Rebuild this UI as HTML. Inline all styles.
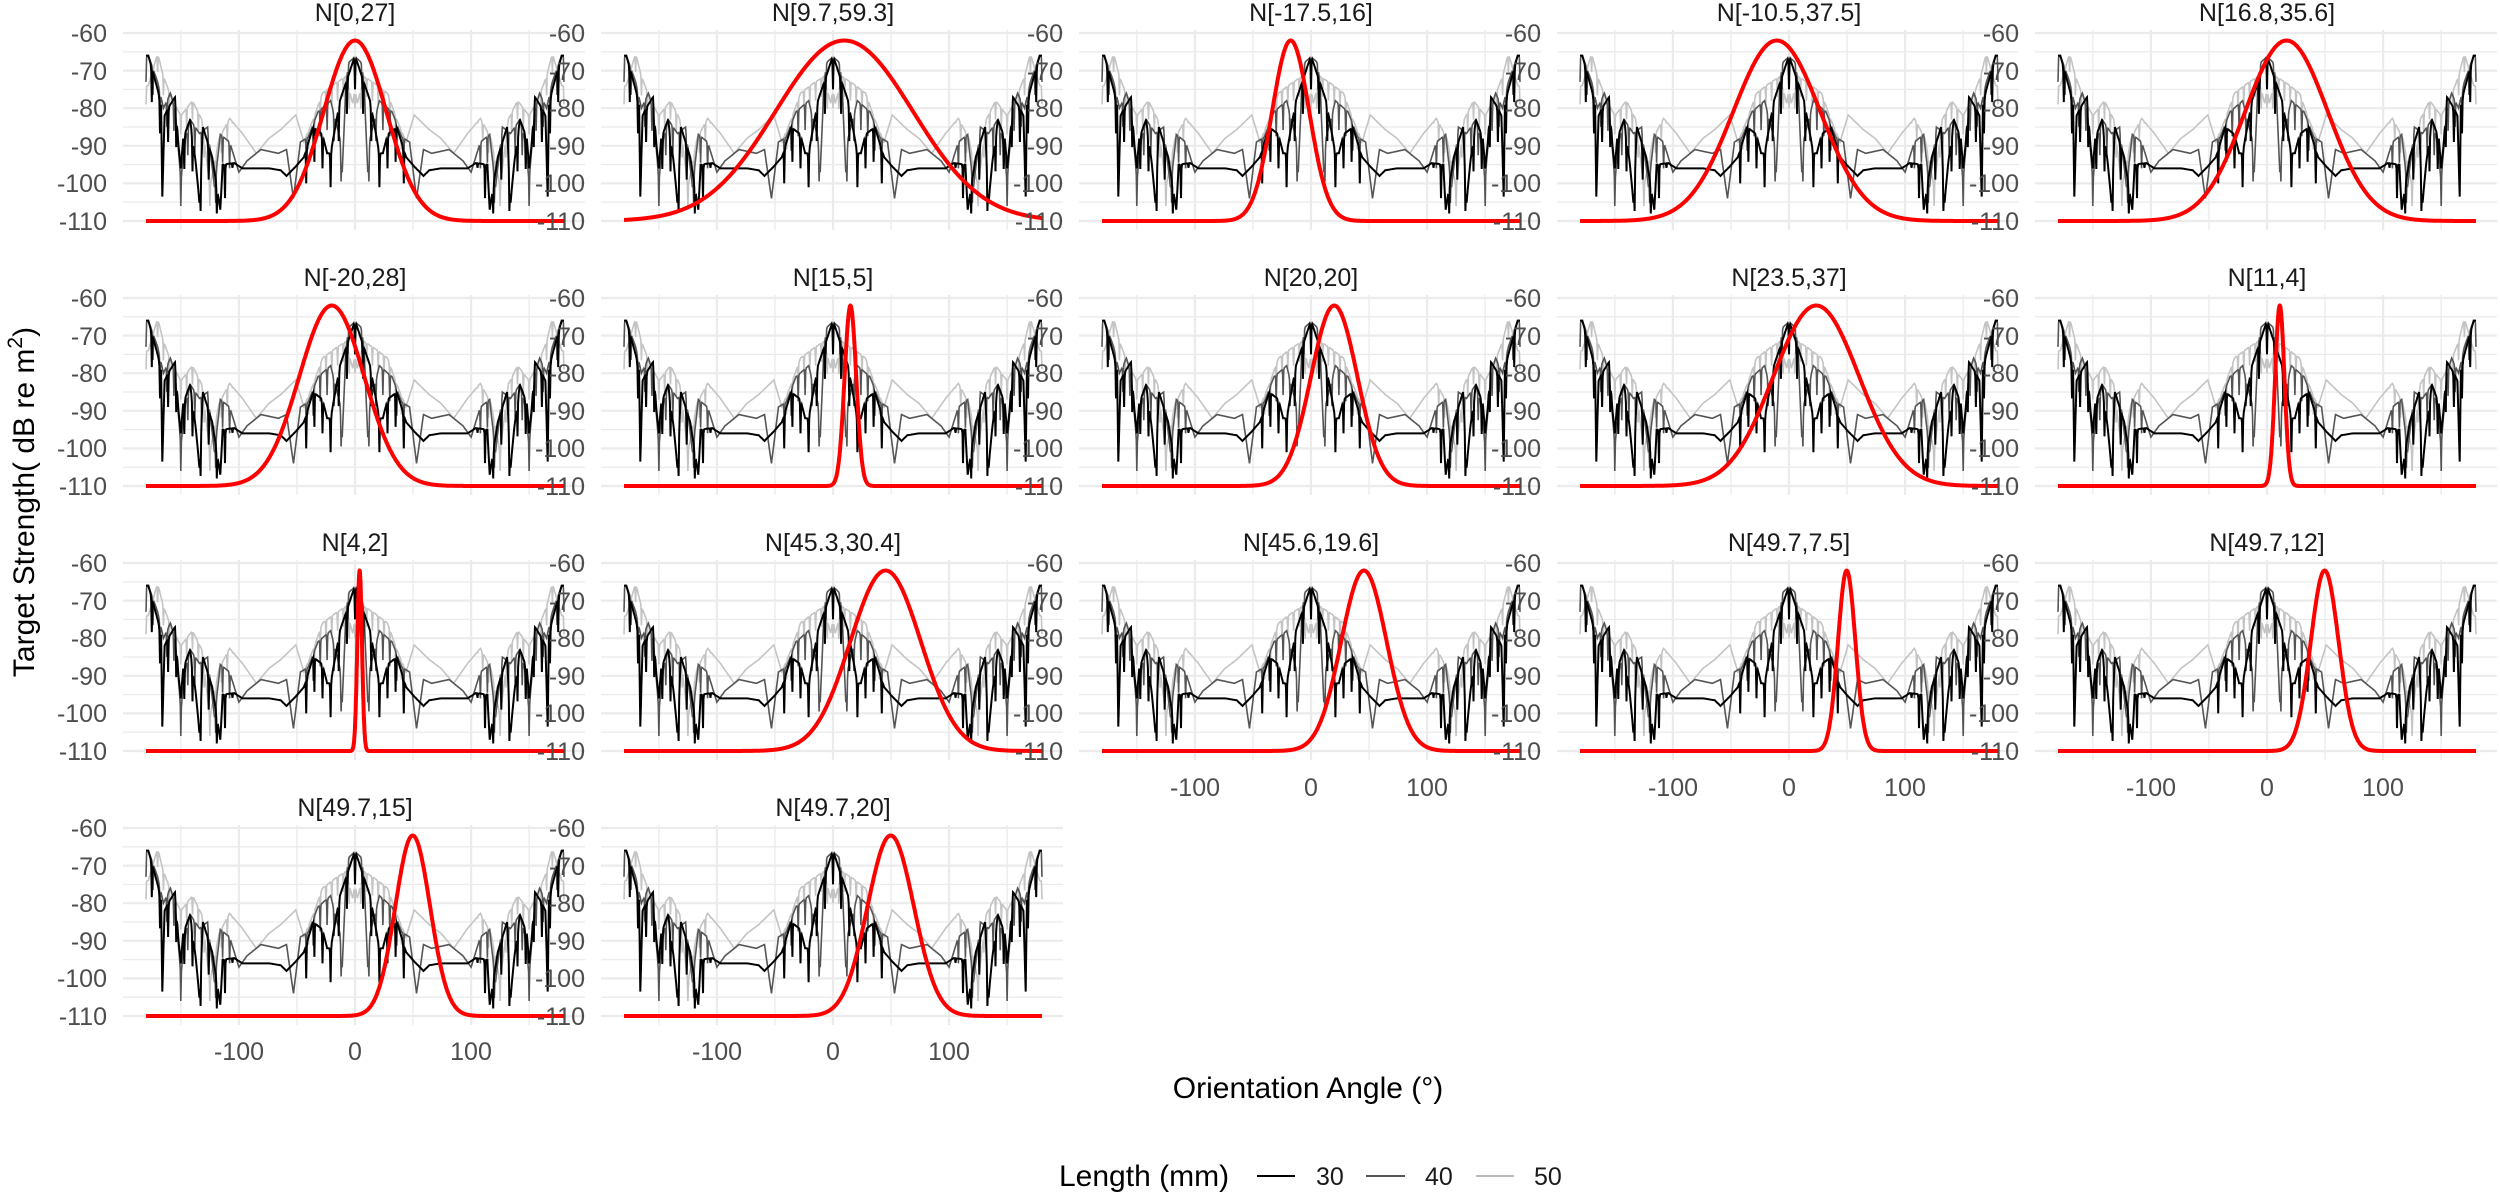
<!DOCTYPE html>
<html><head><meta charset="utf-8"><style>
html,body{margin:0;padding:0;background:#fff;}
svg{display:block;}
text{font-family:"Liberation Sans",sans-serif;}
</style></head><body>
<svg id="s" xmlns="http://www.w3.org/2000/svg" width="2500" height="1194" viewBox="0 0 2500 1194">
<g id="grid"></g>
<g id="data"></g>
<g id="labels" font-size="25">
<g fill="#1a1a1a" text-anchor="middle">
<text x="355" y="21">N[0,27]</text>
<text x="833" y="21">N[9.7,59.3]</text>
<text x="1311" y="21">N[-17.5,16]</text>
<text x="1789" y="21">N[-10.5,37.5]</text>
<text x="2267" y="21">N[16.8,35.6]</text>
<text x="355" y="286">N[-20,28]</text>
<text x="833" y="286">N[15,5]</text>
<text x="1311" y="286">N[20,20]</text>
<text x="1789" y="286">N[23.5,37]</text>
<text x="2267" y="286">N[11,4]</text>
<text x="355" y="551">N[4,2]</text>
<text x="833" y="551">N[45.3,30.4]</text>
<text x="1311" y="551">N[45.6,19.6]</text>
<text x="1789" y="551">N[49.7,7.5]</text>
<text x="2267" y="551">N[49.7,12]</text>
<text x="355" y="816">N[49.7,15]</text>
<text x="833" y="816">N[49.7,20]</text>
</g>
<g fill="#4d4d4d" text-anchor="end">
<g id="yt0">
<text x="107" y="42">-60</text><text x="107" y="80">-70</text><text x="107" y="117">-80</text>
<text x="107" y="155">-90</text><text x="107" y="192">-100</text><text x="107" y="230">-110</text>
</g>
</g>
<g fill="#4d4d4d" text-anchor="middle">
<text x="239" y="1060">-100</text><text x="355" y="1060">0</text><text x="471" y="1060">100</text>
<text x="717" y="1060">-100</text><text x="833" y="1060">0</text><text x="949" y="1060">100</text>
<text x="1195" y="796">-100</text><text x="1311" y="796">0</text><text x="1427" y="796">100</text>
<text x="1673" y="796">-100</text><text x="1789" y="796">0</text><text x="1905" y="796">100</text>
<text x="2151" y="796">-100</text><text x="2267" y="796">0</text><text x="2383" y="796">100</text>
</g>
</g>
<text x="1308" y="1098" font-size="30" text-anchor="middle" fill="#000">Orientation Angle (°)</text>
<text transform="translate(34,502) rotate(-90)" font-size="30" text-anchor="middle" fill="#000">Target Strength( dB re m<tspan font-size="21" dy="-12">2</tspan><tspan dy="12">)</tspan></text>
<g font-size="30" fill="#000"><text x="1059" y="1186">Length (mm)</text></g>
<line x1="1257" y1="1176" x2="1295" y2="1176" stroke="#000" stroke-width="2"/>
<line x1="1366" y1="1176" x2="1405" y2="1176" stroke="#555" stroke-width="2"/>
<line x1="1476" y1="1176" x2="1514" y2="1176" stroke="#bbb" stroke-width="2"/>
<g font-size="25" fill="#1a1a1a"><text x="1316" y="1185">30</text><text x="1425" y="1185">40</text><text x="1534" y="1185">50</text></g>
</svg>
<script>
(function(){
var NS="http://www.w3.org/2000/svg";
var grid=document.getElementById('grid'),data=document.getElementById('data');
var panels=[[0,27],[9.7,59.3],[-17.5,16],[-10.5,37.5],[16.8,35.6],[-20,28],[15,5],[20,20],[23.5,37],[11,4],[4,2],[45.3,30.4],[45.6,19.6],[49.7,7.5],[49.7,12],[49.7,15],[49.7,20]];
function el(n,a,p){var e=document.createElementNS(NS,n);for(var k in a)e.setAttribute(k,a[k]);p.appendChild(e);return e;}
function X(c,a){return 355+478*c+a*1.161;}
function Y(r,v){return 33+265*r+(-60-v)*3.76;}
var S30=[[-180,-66],[-178,-66],[-170,-75],[-167,-79],[-166,-103.5],[-164,-82],[-161,-80],[-155,-77],[-152,-90],[-150,-96],[-148,-88],[-142,-83],[-137,-95],[-134,-105],[-131,-85],[-127,-89],[-123,-93],[-116,-107],[-114,-95],[-104,-94.6],[-97,-96],[-74,-96],[-64,-96.5],[-59,-98],[-51,-95.5],[-44,-93],[-36,-85],[-28,-87],[-24,-92],[-21,-92],[-13,-78],[-6,-71.6],[0,-66]];
var S40=[[-180,-66],[-178,-66],[-170,-73],[-165,-80],[-159,-76],[-155,-80],[-150,-99],[-146,-88],[-142,-83],[-134,-86.7],[-127,-85],[-121,-101],[-116,-87],[-108,-89],[-100,-97],[-93,-94],[-81,-91],[-66,-92],[-59,-91],[-53,-104],[-47,-89],[-40,-87.6],[-32,-81],[-21,-78],[-13,-88],[-11,-97],[-8,-75],[-6,-68],[0,-66.3]];
var S50=[[-180,-74],[-178,-74],[-170,-65.4],[-165,-71.6],[-157,-78],[-150,-82],[-140,-78],[-132,-83],[-125,-101],[-117,-88],[-108,-82.7],[-97,-86.7],[-85,-92],[-74,-88],[-64,-85.7],[-51,-81.8],[-44,-89],[-36,-83],[-28,-76],[-17,-73.4],[-8,-71.6],[-2,-78.7],[0,-75]];
function interp(pts,a){var x=-Math.abs(a);for(var i=0;i<pts.length-1;i++){if(x>=pts[i][0]&&x<=pts[i+1][0]){var t=(x-pts[i][0])/(pts[i+1][0]-pts[i][0]||1);return pts[i][1]+t*(pts[i+1][1]-pts[i][1]);}}return pts[pts.length-1][1];}
function series(pts,P,A){var out=[];for(var a=-180;a<=180;a+=0.5){var v=interp(pts,a);var aa=Math.abs(a);var amp=(aa>105||aa<45)?A:0;var d=1-Math.abs(Math.sin(Math.PI*a/P));v-=amp*Math.pow(d,8);if(v<-108)v=-108;out.push([a,v]);}return out;}
var d30=series(S30,7,9),d40=series(S40,6,7),d50=series(S50,5,5);
function pathFor(arr,c,r){var s="";for(var i=0;i<arr.length;i++){s+=(i?"L":"M")+X(c,arr[i][0]).toFixed(1)+","+Y(r,arr[i][1]).toFixed(1);}return s;}
for(var p=0;p<panels.length;p++){
 var c=p%5,r=Math.floor(p/5);
 var L=123+478*c,R=L+462,T=Y(r,-59.2),B=Y(r,-112.4);
 for(var v=-60;v>=-110;v-=5){el('line',{x1:L,x2:R,y1:Y(r,v),y2:Y(r,v),stroke:'#ebebeb','stroke-width':(v%10==0?2.2:1.3)},grid);}
 for(var a=-150;a<=150;a+=50){el('line',{x1:X(c,a),x2:X(c,a),y1:T,y2:B,stroke:'#ebebeb','stroke-width':(a%100==0?2.2:1.3)},grid);}
 el('path',{d:pathFor(d50,c,r),fill:'none',stroke:'#c4c4c4','stroke-width':1.6},data);
 el('path',{d:pathFor(d40,c,r),fill:'none',stroke:'#555','stroke-width':1.6},data);
 el('path',{d:pathFor(d30,c,r),fill:'none',stroke:'#000','stroke-width':2},data);
 var m=panels[p][0],sd=panels[p][1],rd=[];
 var step=sd<5?0.1:0.5;
 for(var a2=-180;a2<=180.001;a2+=step){rd.push([a2,-110+48*Math.exp(-(a2-m)*(a2-m)/(2*sd*sd))]);}
 el('path',{d:pathFor(rd,c,r),fill:'none',stroke:'#ff0000','stroke-width':4,'stroke-linejoin':'round'},data);
 if(p>0){var g=document.getElementById('yt0').cloneNode(true);g.removeAttribute('id');g.setAttribute('transform','translate('+(478*c)+','+(265*r)+')');document.getElementById('yt0').parentNode.appendChild(g);}
}
})();
</script>
</body></html>
